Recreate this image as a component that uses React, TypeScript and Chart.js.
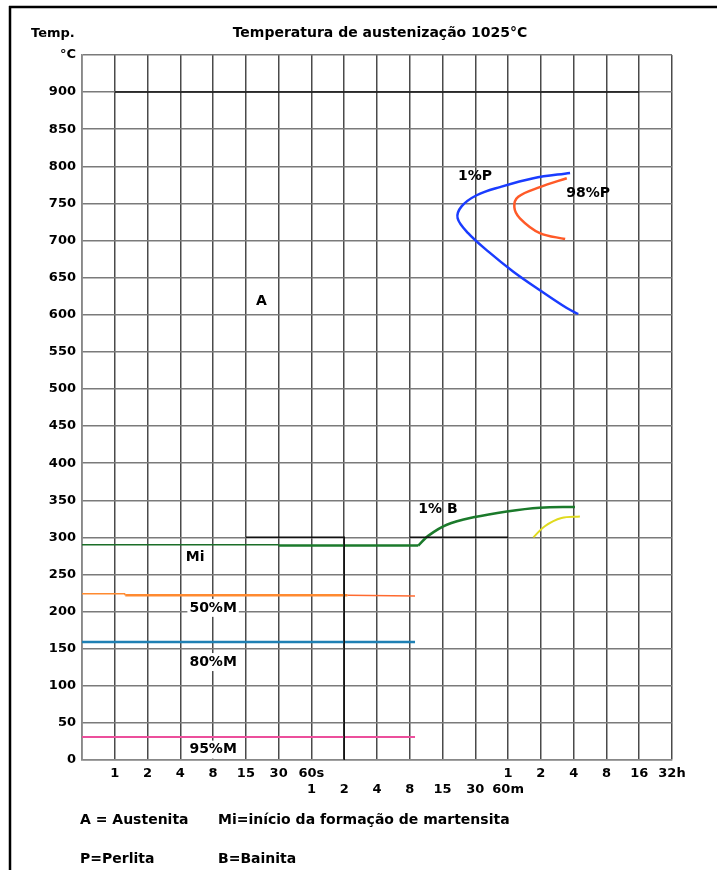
import React, { useEffect, useRef } from 'react';
import { Chart, registerables } from 'chart.js';

Chart.register(...registerables);

// ---- Axis labels ----
const xTickRow1 = ['', '1', '2', '4', '8', '15', '30', '60s', '', '', '', '', '', '1', '2', '4', '8', '16', '32h'];
const xTickRow2 = ['', '', '', '', '', '', '', '1', '2', '4', '8', '15', '30', '60m', '', '', '', '', ''];
const yTopLabel = '°C';
const yMax = 950;
const yStep = 50;

const titleText = 'Temperatura de austenização 1025°C';
const yAxisTitle = 'Temp.';
const legendLines = [
  ['A = Austenita', 'Mi=início da formação de martensita'],
  ['P=Perlita', 'B=Bainita'],
];

// ---- Series (x = grid index on the time axis, y = °C) ----
const pearlite1X = [14.89, 13.77, 12.75, 12.04, 11.58, 11.46, 11.78, 12.4, 13.16, 13.97, 14.79, 15.14];
const pearlite1Y = [791, 784, 772, 761, 746, 730, 710, 685, 658, 633, 609, 601];

const pearlite98X = [14.79, 13.97, 13.31, 13.19, 13.36, 13.97, 14.74];
const pearlite98Y = [784, 772, 759, 745, 730, 710, 702];

const bainite1X = [10.26, 10.56, 11.13, 11.94, 12.96, 13.97, 15.04];
const bainite1Y = [289, 302, 317, 327, 335, 340, 341];

const bainiteYellowX = [13.77, 14.12, 14.63, 15.19];
const bainiteYellowY = [300, 315, 326, 328];

const msThinX = [0, 6];
const msThinY = [290, 290];
const msThickX = [6, 10.26];
const msThickY = [289, 289];

const m50X = [0, 1.3, 1.32, 8.1, 10.16];
const m50Y = [224, 224, 222, 222, 221];

const m80X = [0, 10.16];
const m80Y = [159, 159];

const m95X = [0, 10.16];
const m95Y = [31, 31];

const ref900X = [1, 17];
const ref900Y = [900, 900];

const ref300aX = [5, 8, 8];
const ref300aY = [300, 300, 0];

const ref300bX = [10, 13];
const ref300bY = [300, 300];

// ---- On-chart labels (data coordinates) ----
const chartLabels = [
  { text: 'A', x: 5.47, y: 618, box: false },
  { text: 'Mi', x: 3.45, y: 273, box: false },
  { text: '50%M', x: 4, y: 205, box: true },
  { text: '80%M', x: 4, y: 132, box: true },
  { text: '95%M', x: 4, y: 14, box: true },
  { text: '1%P', x: 11.99, y: 786, box: false },
  { text: '98%P', x: 15.44, y: 763, box: false },
  { text: '1% B', x: 10.86, y: 338, box: false },
];

function pts(xs: number[], ys: number[]) {
  return xs.map((x, i) => ({ x, y: ys[i] }));
}

const FONT = '"DejaVu Sans", sans-serif';

export default function App() {
  const ref = useRef<HTMLCanvasElement>(null);

  useEffect(() => {
    const canvas = ref.current;
    if (!canvas) return;

    const textPlugin = {
      id: 'textPlugin',
      afterDatasetsDraw(chart: any) {
        const ctx = chart.ctx;
        const xs = chart.scales.x;
        const ys = chart.scales.y;
        ctx.save();
        ctx.font = `bold 14px ${FONT}`;
        ctx.fillStyle = '#000';
        ctx.textAlign = 'center';
        ctx.textBaseline = 'middle';
        for (const l of chartLabels) {
          const px = xs.getPixelForValue(l.x);
          const py = ys.getPixelForValue(l.y);
          if (l.box) {
            const w = ctx.measureText(l.text).width + 4;
            ctx.fillStyle = '#fff';
            ctx.fillRect(px - w / 2, py - 9, w, 18);
            ctx.fillStyle = '#000';
          }
          ctx.fillText(l.text, px, py);
        }
        ctx.restore();
      },
      afterDraw(chart: any) {
        const ctx = chart.ctx;
        ctx.save();
        // frame
        ctx.strokeStyle = '#000';
        ctx.lineWidth = 2.5;
        ctx.beginPath();
        ctx.moveTo(9, 7);
        ctx.lineTo(717, 7);
        ctx.moveTo(10, 6);
        ctx.lineTo(10, 870);
        ctx.stroke();

        ctx.fillStyle = '#000';
        ctx.textBaseline = 'alphabetic';
        ctx.font = `bold 14px ${FONT}`;
        ctx.textAlign = 'center';
        ctx.fillText(titleText, 380, 37);
        ctx.font = `bold 13px ${FONT}`;
        ctx.textAlign = 'left';
        ctx.fillText(yAxisTitle, 31, 37);

        ctx.font = `bold 14px ${FONT}`;
        const rowsY = [824, 863];
        const colsX = [80, 218];
        legendLines.forEach((row, r) => {
          row.forEach((t, c) => ctx.fillText(t, colsX[c], rowsY[r]));
        });
        ctx.restore();
      },
    };

    const lineDs = (data: any, color: string, width: number, tension = 0, extra: any = {}) => ({
      data,
      borderColor: color,
      backgroundColor: color,
      borderWidth: width,
      pointRadius: 0,
      showLine: true,
      fill: false,
      tension,
      ...extra,
    });

    const chart = new Chart(canvas, {
      type: 'scatter',
      data: {
        datasets: [
          lineDs(pts(ref900X, ref900Y), '#111', 1.5),
          lineDs(pts(ref300aX, ref300aY), '#111', 1.5),
          lineDs(pts(ref300bX, ref300bY), '#111', 1.5),
          lineDs(pts(m50X, m50Y), '#ff8a30', 2, 0, {
            segment: {
              borderWidth: (c: any) => (c.p0DataIndex === 2 ? 2.5 : 1.5),
              borderColor: (c: any) => (c.p0DataIndex === 3 ? '#ff6a30' : '#ff8a30'),
            },
          }),
          lineDs(pts(m80X, m80Y), '#1f80b4', 2.5),
          lineDs(pts(m95X, m95Y), '#ec4f9c', 2),
          lineDs(pts(msThinX, msThinY), '#1b6e28', 1.5),
          lineDs(pts(msThickX, msThickY), '#1b7a2b', 2.5),
          lineDs(pts(bainite1X, bainite1Y), '#1b7a2b', 2.5, 0.35),
          lineDs(pts(bainiteYellowX, bainiteYellowY), '#e0da1e', 2, 0.35),
          lineDs(pts(pearlite1X, pearlite1Y), '#1a3cff', 2.5, 0.35),
          lineDs(pts(pearlite98X, pearlite98Y), '#ff5a28', 2.5, 0.35),
        ] as any,
      },
      plugins: [textPlugin],
      options: {
        animation: false,
        responsive: false,
        maintainAspectRatio: false,
        layout: { padding: { left: 0, right: 45, top: 55, bottom: 0 } },
        plugins: {
          legend: { display: false },
          tooltip: { enabled: false },
          title: { display: false },
        },
        scales: {
          x: {
            type: 'linear',
            min: 0,
            max: xTickRow1.length - 1,
            afterFit: (s: any) => {
              s.height = 110;
            },
            border: { color: '#888', width: 1.5 },
            grid: { color: '#4a4a4a', lineWidth: 1.5, drawTicks: false },
            ticks: {
              stepSize: 1,
              autoSkip: false,
              maxRotation: 0,
              padding: 5,
              color: '#000',
              font: { family: FONT, size: 13, weight: 'bold', lineHeight: 1.25 },
              callback: (v: any) => {
                const i = Math.round(Number(v));
                const a = xTickRow1[i] || '';
                const b = xTickRow2[i] || '';
                if (!a && !b) return '';
                return [a, b];
              },
            },
          },
          y: {
            type: 'linear',
            min: 0,
            max: yMax,
            afterFit: (s: any) => {
              s.width = 82;
            },
            border: { color: '#888', width: 1.5 },
            grid: { color: '#7a7a7a', lineWidth: 1.5, drawTicks: false },
            ticks: {
              stepSize: yStep,
              autoSkip: false,
              padding: 6,
              color: '#000',
              font: { family: FONT, size: 13, weight: 'bold' },
              callback: (v: any) => (Number(v) === yMax ? yTopLabel : String(v)),
            },
          },
        },
      } as any,
    });

    return () => chart.destroy();
  }, []);

  return (
    <div style={{ position: 'absolute', left: 0, top: 0, width: 717, height: 870, background: '#fff' }}>
      <canvas ref={ref} width={717} height={870} style={{ display: 'block', width: 717, height: 870 }} />
    </div>
  );
}
